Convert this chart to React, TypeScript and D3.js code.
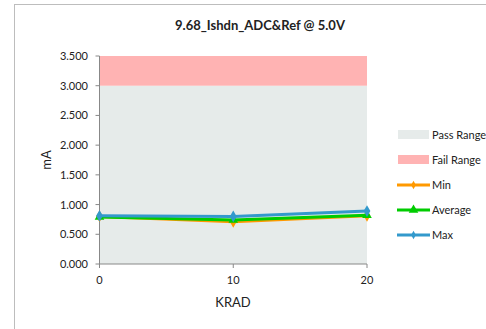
import React from "react";
import * as d3 from "d3";

const xValues = [0, 10, 20];
const minSeries = [0.8, 0.71, 0.81];
const avgSeries = [0.79, 0.74, 0.82];
const maxSeries = [0.81, 0.8, 0.89];
const yTicks = [0, 0.5, 1, 1.5, 2, 2.5, 3, 3.5];
const passRange = [0, 3];
const failRange = [3, 3.5];
const title = "9.68_Ishdn_ADC&Ref @ 5.0V";

const font = "Lato, 'Open Sans', sans-serif";

export default function App() {
  const W = 486, H = 329;
  const x = d3.scaleLinear().domain([0, 20]).range([99.5, 367]);
  const y = d3.scaleLinear().domain([0, 3.5]).range([264, 56]);
  const line = d3.line<number>().x((_, i) => x(xValues[i])).y(d => y(d));
  const series = [
    { name: "Min", data: minSeries, color: "#ff9900", marker: "diamond" },
    { name: "Average", data: avgSeries, color: "#00cc00", marker: "triangle" },
    { name: "Max", data: maxSeries, color: "#3399cc", marker: "diamond" },
  ];
  const diamond = d3.symbol(d3.symbolDiamond, 40)()!;
  const tri = d3.symbol(d3.symbolTriangle, 40)()!;
  return (
    <svg width={W} height={H} style={{ position: "absolute", left: 0, top: 0 }} fontFamily={font}>
      <rect x={0} y={0} width={W} height={H} fill="#fff" />
      <rect x={14.5} y={4.5} width={490} height={340} fill="#fff" stroke="#bdbdbd" />
      <text x={260} y={30} textAnchor="middle" fontWeight="bold" fontSize={13} fill="#222">{title}</text>
      <rect x={x(0)} y={y(passRange[1])} width={x(20) - x(0)} height={y(passRange[0]) - y(passRange[1])} fill="#e6ebea" />
      <rect x={x(0)} y={y(failRange[1])} width={x(20) - x(0)} height={y(failRange[0]) - y(failRange[1])} fill="#ffb3b3" />
      <line x1={x(0)} x2={x(0)} y1={y(3.5)} y2={y(0)} stroke="#888" />
      <line x1={x(0)} x2={x(20)} y1={y(0)} y2={y(0)} stroke="#888" />
      {yTicks.map(t => (
        <g key={t}>
          <line x1={x(0) - 4} x2={x(0)} y1={y(t)} y2={y(t)} stroke="#888" />
          <text x={88} y={y(t) + 4} textAnchor="end" fontSize={11} fill="#222">{t.toFixed(3)}</text>
        </g>
      ))}
      {xValues.map(v => (
        <g key={v}>
          <line x1={x(v)} x2={x(v)} y1={y(0)} y2={y(0) + 4} stroke="#888" />
          <text x={x(v)} y={y(0) + 20} textAnchor="middle" fontSize={11} fill="#222">{v}</text>
        </g>
      ))}
      <text x={233} y={307} textAnchor="middle" fontSize={13} fill="#222">KRAD</text>
      <text transform={`translate(51,160) rotate(-90)`} textAnchor="middle" fontSize={13} fill="#222">mA</text>
      {series.map(s => (
        <g key={s.name}>
          <path d={line(s.data)!} fill="none" stroke={s.color} strokeWidth={3} />
          {s.data.map((d, i) => (
            <path key={i} d={s.marker === "triangle" ? tri : diamond} transform={`translate(${x(xValues[i])},${y(d)})`} fill={s.color} />
          ))}
        </g>
      ))}
      <rect x={398} y={130} width={31} height={9} fill="#e6ebea" />
      <text x={432} y={139} fontSize={11} fill="#222">Pass Range</text>
      <rect x={398} y={155} width={31} height={9} fill="#ffb3b3" />
      <text x={432} y={164} fontSize={11} fill="#222">Fail Range</text>
      {series.map((s, i) => {
        const ly = 185 + i * 25;
        return (
          <g key={s.name}>
            <line x1={397} x2={430} y1={ly} y2={ly} stroke={s.color} strokeWidth={3} />
            <path d={s.marker === "triangle" ? tri : d3.symbol(d3.symbolDiamond, 20)()!} transform={`translate(413.5,${ly})`} fill={s.color} />
            <text x={432} y={ly + 4} fontSize={11} fill="#222">{s.name}</text>
          </g>
        );
      })}
    </svg>
  );
}
